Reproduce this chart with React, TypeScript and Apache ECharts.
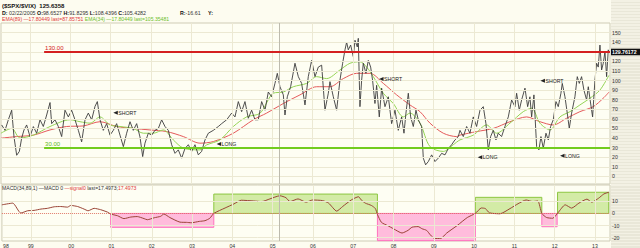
import React, { useEffect, useRef } from "react";
import * as echarts from "echarts";

// ---------- data ----------
const priceDates = [
  1998.298, 1998.381, 1998.463, 1998.546, 1998.604, 1998.670, 1998.736, 1998.794, 1998.851, 1998.917,
  1999.000, 1999.083, 1999.165, 1999.248, 1999.330, 1999.413, 1999.496, 1999.537, 1999.619, 1999.702,
  1999.785, 1999.867, 1999.950, 2000.032, 2000.115, 2000.198, 2000.280, 2000.363, 2000.445, 2000.528,
  2000.611, 2000.668, 2000.735, 2000.817, 2000.900, 2000.982, 2001.065, 2001.147, 2001.230, 2001.313,
  2001.395, 2001.478, 2001.560, 2001.643, 2001.726, 2001.792, 2001.849, 2001.932, 2002.015, 2002.097,
  2002.180, 2002.262, 2002.345, 2002.428, 2002.510, 2002.593, 2002.675, 2002.758, 2002.840, 2002.923,
  2003.006, 2003.088, 2003.171, 2003.253, 2003.336, 2003.419, 2003.543, 2003.667, 2003.749, 2003.873,
  2003.997, 2004.079, 2004.162, 2004.244, 2004.327, 2004.410, 2004.492, 2004.575, 2004.657, 2004.740,
  2004.823, 2004.905, 2004.988, 2005.070, 2005.128, 2005.194, 2005.277, 2005.318, 2005.376, 2005.458,
  2005.566, 2005.649, 2005.731, 2005.814, 2005.896, 2005.979, 2006.062, 2006.144, 2006.227, 2006.309,
  2006.392, 2006.433, 2006.516, 2006.598, 2006.681, 2006.747, 2006.805, 2006.846, 2006.887, 2006.945,
  2007.011, 2007.053, 2007.110, 2007.135, 2007.176, 2007.218, 2007.259, 2007.325, 2007.383, 2007.441,
  2007.490, 2007.548, 2007.589, 2007.655, 2007.713, 2007.796, 2007.879, 2007.961, 2008.044, 2008.126,
  2008.209, 2008.267, 2008.316, 2008.374, 2008.432, 2008.498, 2008.564, 2008.622, 2008.704, 2008.746,
  2008.803, 2008.870, 2008.952, 2009.035, 2009.117, 2009.200, 2009.283, 2009.365, 2009.448, 2009.530,
  2009.613, 2009.654, 2009.737, 2009.819, 2009.902, 2009.984, 2010.067, 2010.150, 2010.232, 2010.298,
  2010.356, 2010.414, 2010.480, 2010.546, 2010.604, 2010.686, 2010.769, 2010.852, 2010.934, 2011.017,
  2011.058, 2011.124, 2011.182, 2011.265, 2011.331, 2011.388, 2011.430, 2011.487, 2011.554, 2011.611,
  2011.661, 2011.719, 2011.785, 2011.843, 2011.900, 2011.966, 2012.033, 2012.090, 2012.156, 2012.189,
  2012.256, 2012.313, 2012.363, 2012.421, 2012.503, 2012.561, 2012.611, 2012.668, 2012.726, 2012.792,
  2012.834, 2012.875, 2012.941, 2012.999, 2013.040, 2013.081, 2013.123, 2013.164, 2013.205, 2013.247,
  2013.288, 2013.329, 2013.345,
];
const priceValues = [
  53.6, 48, 59, 69, 41, 22, 26, 40, 48.4, 53.6,
  41.5, 51.9, 45, 59, 52, 64, 77, 55, 59, 52,
  41.5, 69, 62, 69, 59, 48, 36, 59, 66, 59,
  73, 78, 59, 48, 55, 43, 48, 55, 43, 31,
  45, 57, 48, 55, 41, 20.6, 34.6, 45, 43, 48,
  50, 59, 52, 48, 33, 24, 27.6, 19, 29, 33,
  26, 33, 22.4, 26, 38, 45, 48, 52, 55, 59,
  66, 62, 78, 67.5, 78, 60.6, 69, 59, 59, 78,
  69, 88, 83, 97, 107.5, 93.5, 85, 64, 83, 93.5,
  118, 104, 97, 74.5, 104, 121, 104, 114, 116, 69,
  86.7, 98.8, 83, 69, 100.5, 118, 132, 140, 132, 137,
  125, 142, 135, 144, 72.7, 100.5, 118, 107.5, 121, 114,
  100, 76, 95, 62, 92, 72.7, 83, 55, 69, 48,
  62, 45, 66, 86.7, 62, 52, 69, 59, 52, 19,
  12, 15.4, 22.4, 15.4, 19, 24, 22.4, 29, 33, 38,
  41.5, 48, 41.5, 52, 45, 62, 52, 69, 72.7, 55,
  27.6, 41.5, 48, 38, 45, 41.5, 52, 62, 79.7, 72.7,
  86.7, 69, 79.7, 92, 72.7, 83, 62, 85, 31, 27.6,
  41.5, 29.4, 45, 38, 52, 59, 78, 72.7, 86.7, 97,
  83, 66, 50, 66, 83, 104, 97, 104, 90, 79.7,
  93.5, 81, 62, 100.5, 118, 114, 137, 111, 118, 130,
  104, 132, 129.76,
];

const ema34Dates = [
  1998.28, 1998.546, 1998.752, 1999.083, 1999.496, 1999.991, 2000.239, 2000.487, 2000.735, 2000.982,
  2001.23, 2001.56, 2001.808, 2002.056, 2002.304, 2002.551, 2002.799, 2003.212, 2003.377, 2003.708,
  2004.038, 2004.368, 2004.699, 2005.029, 2005.277, 2005.525, 2005.855, 2006.103, 2006.351, 2006.681,
  2006.929, 2007.176, 2007.342, 2007.507, 2007.755, 2008.002, 2008.25, 2008.415, 2008.663, 2008.911,
  2009.241, 2009.489, 2009.654, 2009.984, 2010.315, 2010.563, 2010.893, 2011.223, 2011.43, 2011.636,
  2011.884, 2012.132, 2012.38, 2012.627, 2012.875, 2013.123, 2013.345,
];
const ema34Values = [
  45, 50, 40, 43, 52, 59, 57, 55.5, 62, 53.6,
  52, 50, 45, 45, 48.4, 38, 29.4, 27.6, 32.8, 38,
  52, 62, 65.8, 86.7, 88, 93.5, 97, 104, 102, 111,
  118, 119.6, 114, 104, 86.7, 76, 62, 66, 55.5, 31,
  26, 33, 38, 43, 53.6, 45, 55.5, 67.5, 71, 55.5,
  48.4, 62, 67.5, 74.5, 81.5, 90, 105.35,
];

const ema89Dates = [
  1998.28, 1998.67, 1999.083, 1999.496, 1999.909, 2000.321, 2000.735, 2001.147, 2001.56, 2001.973,
  2002.386, 2002.799, 2003.212, 2003.543, 2004.038, 2004.533, 2004.864, 2005.277, 2005.69, 2006.103,
  2006.433, 2006.763, 2007.094, 2007.424, 2007.755, 2008.085, 2008.415, 2008.663, 2008.911, 2009.241,
  2009.572, 2009.654, 2010.067, 2010.48, 2010.893, 2011.306, 2011.636, 2011.966, 2012.297, 2012.627,
  2012.957, 2013.205, 2013.345,
];
const ema89Values = [
  39.8, 41.5, 43, 48.4, 52, 52.6, 57, 52, 50, 48.4,
  46.7, 41.5, 34.6, 36.3, 45, 59, 66, 76, 85, 93.5,
  93.5, 102, 107.5, 107.5, 97, 85, 74.5, 67.5, 55.5, 45,
  41.5, 43, 46.7, 50, 57, 62, 57, 53.6, 60.6, 67.5,
  72.7, 81.5, 87.86,
];

const macdDates = [
  1998.28, 1998.55, 1998.75, 1998.92, 1999.08, 1999.25, 1999.41, 1999.58, 1999.74, 1999.91,
  1999.99, 2000.16, 2000.32, 2000.42, 2000.57, 2000.73, 2000.9, 2000.98, 2001.15, 2001.31,
  2001.48, 2001.64, 2001.81, 2001.89, 2002.06, 2002.22, 2002.3, 2002.45, 2002.7, 2002.86,
  2002.98, 2003.18, 2003.32, 2003.44, 2003.54, 2003.82, 2004.03, 2004.22, 2004.53, 2004.73,
  2004.93, 2005.18, 2005.33, 2005.43, 2005.63, 2005.83, 2005.99, 2006.24, 2006.39, 2006.59,
  2006.74, 2006.95, 2007.13, 2007.2, 2007.3, 2007.45, 2007.55, 2007.6, 2007.7, 2007.85,
  2008.0, 2008.21, 2008.36, 2008.46, 2008.61, 2008.71, 2008.82, 2008.92, 2009.02, 2009.17,
  2009.32, 2009.58, 2009.83, 2010.03, 2010.18, 2010.28, 2010.38, 2010.64, 2010.89, 2011.09,
  2011.29, 2011.45, 2011.58, 2011.68, 2011.8, 2011.95, 2012.08, 2012.26, 2012.42, 2012.6,
  2012.8, 2012.92, 2013.09, 2013.22, 2013.345,
];
const macdValues = [
  7.1, 8.5, 0.3, 2.2, 2.5, 3.6, 4.2, 5.5, 5.7, 5.2,
  6.6, 5.7, 3.6, 2.2, 4.2, 3.1, 1.1, -0.5, -1.9, -4.3,
  -3, -2.6, -4.3, -5.2, -3.6, -2.4, -0.5, -3.4, -7.2, -7.4,
  -7.7, -6.6, -6.0, -4.0, 0, 4.5, 7.7, 10.9, 10.3, 9.8,
  12, 14.6, 13, 9.8, 12, 9.3, 11.1, 10.6, 8.5, 1.9,
  5.8, 11.1, 13.8, 11.1, 8.5, 6.6, 4, -0.8, -7.4, -10,
  -12.7, -16.2, -14, -11.4, -10.9, -12.7, -14, -18, -20.7, -20.7,
  -16.2, -10, -3.4, 0, 4.5, 4, 0.5, -0.3, 4, 8,
  11.1, 9.8, 10.3, 0, -3.4, -4, 0.5, 7.1, 4.4, 8.5,
  11.8, 9.3, 12.6, 16.1, 17.5,
];

const yearTicks = [1999, 2000, 2001, 2002, 2003, 2004, 2005, 2006, 2007, 2008, 2009, 2010, 2011, 2012, 2013];
const firstYearLabelAt = 1998.38;
const priceTicks = [0, 10, 20, 30, 40, 50, 60, 70, 80, 90, 100, 110, 120, 130, 140, 150];
const macdTicks = [-20, -10, 0, 10];
const macdGridTicks = [-20, -10, 10];

const signalLabels = ["SHORT", "LONG", "SHORT", "LONG", "SHORT", "LONG"];
const signalDates = [2001.12, 2003.68, 2007.705, 2010.15, 2011.704, 2012.19];
const signalValues = [66.4, 33.7, 101.6, 19.8, 99.8, 21.5];

const zoneStarts = [2000.98, 2003.54, 2007.6, 2010.03, 2011.68, 2012.07];
const zoneEnds = [2003.54, 2007.6, 2010.03, 2011.68, 2012.06, 2013.34];
const zoneLimits = [-11.5, 16, -22.5, 13.3, -11, 17.5];

const upperLevel = 130;
const lowerLevel = 30;
const levelStart = 1999.35;
const lastTag = 129.76172;
const crosshairDate = 2005.17;

const xMin = 1998.2814;
const xMax = 2013.372;

const zip = (xs: number[], ys: number[]) => xs.map((x, i) => [x, ys[i]]);

const FONT = "Liberation Sans";
const GRID_COLOR = "#ECE9D3";

// axis labels that the last-value tag covers in the reference are not drawn
const visiblePriceTicks = priceTicks.filter((v) => Math.abs(v - lastTag) > 4);

export default function App() {
  const ref = useRef<HTMLDivElement>(null);

  useEffect(() => {
    const chart = echarts.init(ref.current!, null, { renderer: "svg" });

    // striped right-axis background
    const stripeStops: any[] = [];
    const periods = 82;
    for (let i = 0; i < periods; i++) {
      const a = i / periods;
      const b = (i + 0.5) / periods;
      const c = (i + 1) / periods;
      stripeStops.push({ offset: a, color: "#F3F1E4" });
      stripeStops.push({ offset: b, color: "#F3F1E4" });
      stripeStops.push({ offset: b, color: "#E9E7D8" });
      stripeStops.push({ offset: c, color: "#E9E7D8" });
    }

    const vGrid = yearTicks.map((y) => ({ xAxis: y }));
    const hGrid = priceTicks.map((v) => ({ yAxis: v }));

    const option: any = {
      animation: false,
      backgroundColor: "#FDFCF0",
      textStyle: { fontFamily: FONT },
      grid: [
        { left: 1, right: 30, top: 23, height: 161, show: true, backgroundColor: "#FEFEF3", borderColor: "#CFCCB6", borderWidth: 1 },
        { left: 1, right: 30, top: 185, height: 56.5, show: true, backgroundColor: "#FEFEF3", borderColor: "#CFCCB6", borderWidth: 1 },
      ],
      xAxis: [
        {
          type: "value", gridIndex: 0, min: xMin, max: xMax,
          axisLabel: { show: false }, axisLine: { show: false }, axisTick: { show: false }, splitLine: { show: false },
        },
        {
          type: "value", gridIndex: 1, min: xMin, max: xMax,
          axisLine: { show: false }, axisTick: { show: false }, splitLine: { show: false },
          axisLabel: {
            customValues: [firstYearLabelAt, ...yearTicks],
            formatter: (v: number) => String(Math.floor(v + 0.001)).slice(2),
            fontSize: 5.2, color: "#333", margin: 2, fontFamily: FONT,
          },
        },
      ],
      yAxis: [
        {
          type: "value", gridIndex: 0, position: "right", min: -8, max: 160,
          axisLine: { show: false }, axisTick: { show: false }, splitLine: { show: false },
          axisLabel: {
            customValues: visiblePriceTicks, formatter: (v: number) => String(v),
            fontSize: 5.2, color: "#333", margin: 2, fontFamily: FONT,
          },
        },
        {
          type: "value", gridIndex: 1, position: "right", min: -22.8, max: 23.5,
          axisLine: { show: false }, axisTick: { show: false }, splitLine: { show: false },
          axisLabel: {
            customValues: macdTicks, formatter: (v: number) => String(v),
            fontSize: 5.2, color: "#333", margin: 2, fontFamily: FONT,
          },
        },
      ],
      graphic: [
        {
          type: "rect", z: -1, silent: true,
          shape: { x: 611, y: 0, width: 29, height: 248 },
          style: { fill: new echarts.graphic.LinearGradient(0, 0, 0, 1, stripeStops) },
        },
        {
          type: "text", x: 2, y: 5.5, silent: true,
          style: { text: "($SPX/$VIX)  125.6358", font: `bold 6px "${FONT}"`, fill: "#111", verticalAlign: "middle" },
        },
        {
          type: "text", x: 2, y: 12.8, silent: true,
          style: {
            text: "{b|D:} 02/22/2005 {b|O:}98.6527 {b|H:}91.8295 {b|L:}108.4396 {b|C:}105.4282",
            font: `5.3px "${FONT}"`, fill: "#333", verticalAlign: "middle",
            rich: { b: { fontWeight: "bold", fontSize: 5.3, fontFamily: FONT, fill: "#111" } },
          },
        },
        {
          type: "text", x: 180, y: 12.8, silent: true,
          style: {
            text: "{b|R:}-16.61", font: `5.3px "${FONT}"`, fill: "#333", verticalAlign: "middle",
            rich: { b: { fontWeight: "bold", fontSize: 5.3, fontFamily: FONT, fill: "#111" } },
          },
        },
        {
          type: "text", x: 208, y: 12.8, silent: true,
          style: { text: "Y:", font: `bold 5.3px "${FONT}"`, fill: "#111", verticalAlign: "middle" },
        },
        {
          type: "text", x: 2, y: 18.8, silent: true,
          style: {
            text: "{r|EMA(89) —17.80449 last=87.85751} {g|EMA(34) —17.80449 last=105.35481}",
            font: `5.1px "${FONT}"`, verticalAlign: "middle",
            rich: {
              r: { fill: "#E03A3A", fontSize: 5.1, fontFamily: FONT },
              g: { fill: "#6CC02A", fontSize: 5.1, fontFamily: FONT },
            },
          },
        },
        {
          type: "text", x: 2, y: 187.6, silent: true, z: 10,
          style: {
            text: "{k|MACD(34,89,1) —MACD 0 }{r|—signal0 }{k|last=17.4973;}{r|17.4973}",
            font: `5.1px "${FONT}"`, verticalAlign: "middle",
            rich: {
              k: { fill: "#333", fontSize: 5.1, fontFamily: FONT },
              r: { fill: "#E03A3A", fontSize: 5.1, fontFamily: FONT },
            },
          },
        },
      ],
      series: [
        // helper for main-panel gridlines
        {
          type: "line", xAxisIndex: 0, yAxisIndex: 0, z: 1, silent: true,
          data: zip(priceDates, priceValues), showSymbol: false, symbol: "none",
          lineStyle: { opacity: 0 },
          markLine: {
            silent: true, symbol: ["none", "none"], label: { show: false },
            lineStyle: { color: GRID_COLOR, width: 1, type: "solid" },
            data: [
              ...vGrid,
              ...hGrid,
              { xAxis: crosshairDate, lineStyle: { color: "#BDBBAE", width: 1, type: "solid" } },
            ],
          },
        },
        {
          name: "EMA(89)", type: "line", xAxisIndex: 0, yAxisIndex: 0, z: 3,
          data: zip(ema89Dates, ema89Values), showSymbol: false, symbol: "none", smooth: 0.3,
          lineStyle: { color: "#E45A5A", width: 1 },
        },
        {
          name: "EMA(34)", type: "line", xAxisIndex: 0, yAxisIndex: 0, z: 3,
          data: zip(ema34Dates, ema34Values), showSymbol: false, symbol: "none", smooth: 0.3,
          lineStyle: { color: "#94D455", width: 1 },
        },
        {
          name: "$SPX/$VIX", type: "line", xAxisIndex: 0, yAxisIndex: 0, z: 4,
          data: zip(priceDates, priceValues), showSymbol: false, symbol: "none",
          lineStyle: { color: "#3C3C3C", width: 0.9 },
          markLine: {
            silent: true, symbol: ["none", "none"],
            data: [
              [
                {
                  coord: [levelStart, upperLevel],
                  lineStyle: { color: "#D42020", width: 2, type: "solid" },
                  label: { show: true, formatter: upperLevel.toFixed(2), position: "insideStartTop", distance: 1, color: "#D42020", fontSize: 6, fontFamily: FONT },
                },
                { coord: [xMax, upperLevel] },
              ],
              [
                {
                  coord: [levelStart, lowerLevel],
                  lineStyle: { color: "#72CC1E", width: 2, type: "solid" },
                  label: { show: true, formatter: lowerLevel.toFixed(2), position: "insideStartTop", distance: 1, color: "#62B818", fontSize: 6, fontFamily: FONT },
                },
                { coord: [xMax, lowerLevel] },
              ],
            ],
          },
          markPoint: {
            silent: true, symbol: "triangle", symbolSize: [4, 4.5], symbolRotate: 90,
            itemStyle: { color: "#222" },
            label: { show: true, position: "right", distance: 0.5, formatter: "{b}", fontSize: 5.2, color: "#222", fontFamily: FONT },
            data: signalLabels.map((t, i) => ({ name: t, coord: [signalDates[i], signalValues[i]] })),
          },
        },
        // helper for MACD panel: gridlines, zero line and zones
        {
          type: "line", xAxisIndex: 1, yAxisIndex: 1, z: 1, silent: true,
          data: zip(macdDates, macdValues), showSymbol: false, symbol: "none",
          lineStyle: { opacity: 0 },
          markArea: {
            silent: true,
            data: zoneStarts.map((s, i) => {
              const neg = zoneLimits[i] < 0;
              return [
                {
                  xAxis: s, yAxis: 0,
                  itemStyle: neg
                    ? { color: "rgba(255,160,210,0.7)", borderColor: "#FF72BE", borderWidth: 1 }
                    : { color: "rgba(196,228,140,0.75)", borderColor: "#8DC640", borderWidth: 1 },
                },
                { xAxis: zoneEnds[i], yAxis: zoneLimits[i] },
              ];
            }),
          },
          markLine: {
            silent: true, symbol: ["none", "none"], label: { show: false },
            lineStyle: { color: GRID_COLOR, width: 1, type: "solid" },
            data: [
              ...vGrid,
              ...macdGridTicks.map((v) => ({ yAxis: v })),
              { xAxis: crosshairDate, lineStyle: { color: "#BDBBAE", width: 1, type: "solid" } },
              { yAxis: 0, lineStyle: { color: "#E07A6A", width: 1, type: "dotted" } },
            ],
          },
        },
        {
          name: "MACD", type: "line", xAxisIndex: 1, yAxisIndex: 1, z: 4,
          data: zip(macdDates, macdValues), showSymbol: false, symbol: "none", smooth: 0.2,
          lineStyle: { color: "#9A4436", width: 1 },
        },
      ],
    };

    chart.setOption(option);

    const pt = chart.convertToPixel({ gridIndex: 0 }, [xMax, lastTag]) as number[];
    if (pt && isFinite(pt[1])) {
      chart.setOption({
        graphic: [
          ...option.graphic,
          { type: "rect", z: 20, silent: true, shape: { x: 611, y: pt[1] - 3.3, width: 29, height: 6.6 }, style: { fill: "#111" } },
          {
            type: "text", z: 21, x: 612, y: pt[1], silent: true,
            style: { text: lastTag.toFixed(5), font: `bold 5.2px "${FONT}"`, fill: "#fff", verticalAlign: "middle" },
          },
        ],
      });
    }

    return () => chart.dispose();
  }, []);

  return (
    <div
      ref={ref}
      style={{ position: "fixed", left: 0, top: 0, width: 640, height: 248 }}
    />
  );
}
